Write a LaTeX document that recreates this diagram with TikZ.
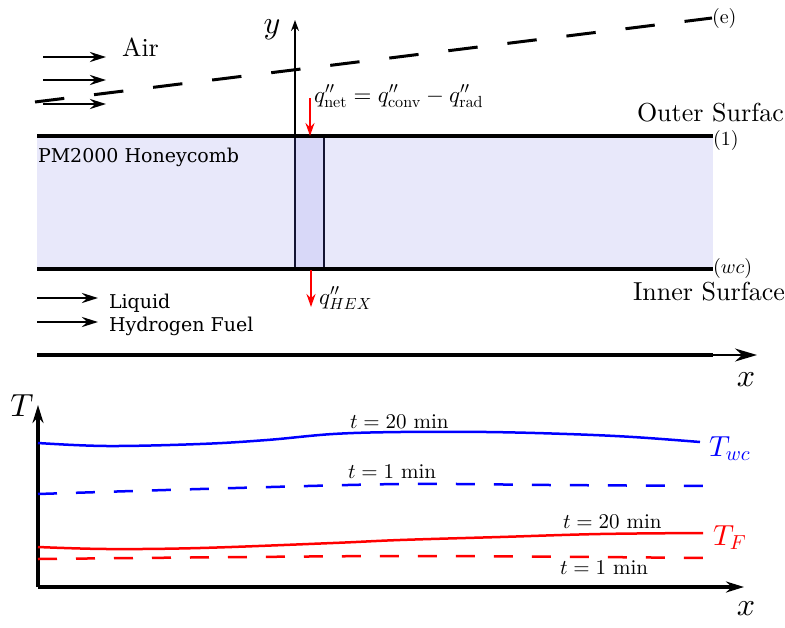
\RequirePackage{fix-cm}
\documentclass[tikz,border=0pt]{standalone}
\usepackage[no-math]{fontspec}
\setmainfont{lmroman10-regular.otf}
\newfontfamily\dvserif{DejaVu Serif}
\DeclareFontFamily{OML}{cmm}{\skewchar\font'177}
\DeclareFontShape{OML}{cmm}{m}{it}{<-16> cmmi7 <16-> cmmi10}{}
\DeclareFontFamily{OT1}{cmr}{\hyphenchar\font45 }
\DeclareFontShape{OT1}{cmr}{m}{n}{<-16> cmr7 <16-> cmr10}{}
\DeclareFontFamily{OMS}{cmsy}{\skewchar\font'60}
\DeclareFontShape{OMS}{cmsy}{m}{n}{<-16> cmsy7 <16-> cmsy10}{}
\usetikzlibrary{arrows.meta}
\definecolor{panelfill}{RGB}{232,232,250}
\definecolor{colfill}{RGB}{216,216,248}
\definecolor{colborder}{RGB}{20,20,50}
\tikzset{
  lbl/.style={inner sep=0pt, outer sep=0pt},
  fbig/.style={font=\fontsize{26}{31}\selectfont},
  fmath/.style={font=\fontsize{23}{27}\selectfont},
  faxis/.style={font=\fontsize{32}{38}\selectfont},
  ftime/.style={font=\fontsize{21}{25}\selectfont},
  fcurve/.style={font=\fontsize{29}{34}\selectfont},
  fpt/.style={font=\fontsize{20}{24}\selectfont},
  fdv/.style={font=\dvserif\fontsize{19}{23}\selectfont},
  surf/.style={line width=3.5pt},
  flow/.style={line width=2.5pt, -{Stealth[length=16pt,width=10pt]}},
  heat/.style={red, line width=2pt, -{Stealth[length=13pt,width=9pt]}},
  curve/.style={line width=2.5pt},
  shortdash/.style={dash pattern=on 19pt off 19pt},
  axisline/.style={line width=3.5pt, -{Stealth[length=18pt,width=11pt]}},
}
\begin{document}
\begin{tikzpicture}[x=1pt,y=-1pt]
\useasboundingbox (0,0) rectangle (785,627);

% ---------- upper panel ----------
\coordinate (TL) at (37,136);
\coordinate (TR) at (713,136);
\coordinate (BL) at (37,269);
\coordinate (BR) at (713,269);
\fill[panelfill] (TL) rectangle (BR);
\draw[colborder, line width=2pt, fill=colfill] (295,136) rectangle (324,269);
\draw[surf] (TL) -- (TR);
\draw[surf] (BL) -- (BR);
\node[lbl, fpt, anchor=west] (p1) at (713,140) {(1)};
\node[lbl, fpt, anchor=west] (pwc) at (713,268) {$(wc)$};
\node[lbl, fdv, anchor=base west] (hc) at (38,162) {PM2000 Honeycomb};

% y axis
\coordinate (yo) at (295,136);
\coordinate (ytip) at (295,20);
\draw[line width=1.5pt, -{Stealth[length=11pt,width=8pt]}] (yo) -- (ytip);
\node[faxis] (ylab) at (272,30) {$y$};

% boundary layer edge
\coordinate (e0) at (35,102);
\coordinate (e1) at (712,18);
\draw[line width=3pt, dash pattern=on 29.5pt off 30pt] (e0) -- (e1);
\node[lbl, fpt, anchor=west] (elab) at (e1) {(e)};

% air
\foreach \yy [count=\i] in {57,80,104}{
  \coordinate (as\i) at (43,\yy);
  \coordinate (ae\i) at (106,\yy);
  \draw[flow] (as\i) -- (ae\i);
}
\node[lbl, fbig, anchor=base west] (air) at (122,56) {Air};

\node[lbl, fbig, anchor=base west] (outer) at (637,121) {Outer Surfac};
\node[lbl, fbig, anchor=base west] (inner) at (633,300) {Inner Surface};

% heat fluxes
\coordinate (qn0) at (310,98);
\coordinate (qn1) at (310,136);
\draw[heat] (qn0) -- (qn1);
\node[lbl, fmath, anchor=base west] (qnet) at (314,102)
  {$q''_{\mathrm{net}} = q''_{\mathrm{conv}} - q''_{\mathrm{rad}}$};
\coordinate (qh0) at (311,270);
\coordinate (qh1) at (311,307);
\draw[heat] (qh0) -- (qh1);
\node[lbl, fmath, anchor=base west] (qhex) at (319,304) {$q''_{HEX}$};

% liquid hydrogen
\foreach \yy [count=\i] in {298,322}{
  \coordinate (ls\i) at (37,\yy);
  \coordinate (le\i) at (98,\yy);
  \draw[flow] (ls\i) -- (le\i);
}
\node[lbl, fdv, anchor=base west] (liq) at (109,308) {Liquid};
\node[lbl, fdv, anchor=base west] (hyd) at (109,331) {Hydrogen Fuel};

% x axis (upper)
\coordinate (xa0) at (37,355);
\coordinate (xa1) at (713,355);
\coordinate (xa2) at (757,355);
\draw[line width=4pt] (xa0) -- (xa1);
\draw[line width=2pt, -{Stealth[length=22pt,width=13pt]}] (xa0) -- (xa2);
\node[faxis] (xlab1) at (746,380) {$x$};

% ---------- lower panel ----------
\coordinate (O) at (38,587);
\coordinate (Ttip) at (38,405);
\coordinate (Xtip) at (744,587);
\draw[axisline] (O) -- (Ttip);
\draw[axisline] (O) -- (Xtip);
\node[faxis] (Tlab) at (22,406) {$T$};
\node[faxis] (xlab2) at (746,609) {$x$};

\draw[blue, curve] plot[smooth, tension=0.6] coordinates
  {(38,443) (107,446) (200,444) (267,440) (333,434) (400,432) (487,432) (567,434) (633,437) (700,442)};
\draw[blue, curve, shortdash] plot[smooth] coordinates
  {(38,494) (200,489) (400,484) (550,485) (705,486)};
\draw[red, curve] plot[smooth, tension=0.6] coordinates
  {(38,547) (107,549) (200,548) (333,543) (400,540) (500,537) (600,534) (703,533)};
\draw[red, curve, shortdash] plot[smooth] coordinates
  {(38,559) (400,556) (705,558)};

\node[lbl, ftime, anchor=base west] (tb20) at (350,428) {$t = 20$ min};
\node[lbl, ftime, anchor=base west] (tb1) at (348,478) {$t = 1$ min};
\node[lbl, ftime, anchor=base west] (tr20) at (563,528) {$t = 20$ min};
\node[lbl, ftime, anchor=base west] (tr1) at (560,574) {$t = 1$ min};
\node[lbl, fcurve, anchor=base west, text=blue] (Twc) at (709,456) {$T_{wc}$};
\node[lbl, fcurve, anchor=base west, text=red] (TF) at (713,545) {$T_F$};
\end{tikzpicture}
\end{document}
